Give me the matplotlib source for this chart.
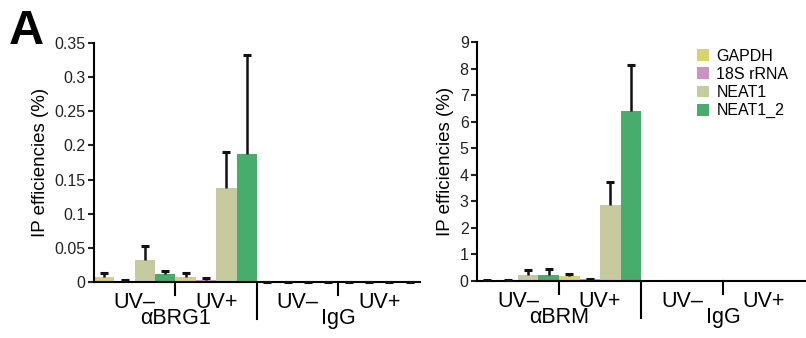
import matplotlib
matplotlib.use("Agg")
import matplotlib.pyplot as plt
from matplotlib.patches import Patch
import numpy as np

plt.rcParams['font.family'] = ['Liberation Sans', 'DejaVu Sans']

series = ["GAPDH", "18S rRNA", "NEAT1", "NEAT1_2"]
colors = ["#d8d36c", "#c992c2", "#c6cb9f", "#48ac6c"]
subgroups = ["UV\u2013", "UV+", "UV\u2013", "UV+"]

# order: aBRG1 UV-, aBRG1 UV+, IgG UV-, IgG UV+
brg1_vals = {
    "GAPDH":    [0.007, 0.007, 0.0, 0.0],
    "18S rRNA": [0.002, 0.003, 0.0, 0.0],
    "NEAT1":    [0.032, 0.137, 0.0, 0.0],
    "NEAT1_2":  [0.012, 0.187, 0.0, 0.0],
}
brg1_err = {
    "GAPDH":    [0.006, 0.006, 0.0, 0.0],
    "18S rRNA": [0.001, 0.003, 0.0, 0.0],
    "NEAT1":    [0.020, 0.053, 0.0, 0.0],
    "NEAT1_2":  [0.004, 0.146, 0.0, 0.0],
}
brm_vals = {
    "GAPDH":    [0.03, 0.18, 0.0, 0.0],
    "18S rRNA": [0.02, 0.06, 0.0, 0.0],
    "NEAT1":    [0.22, 2.87, 0.0, 0.0],
    "NEAT1_2":  [0.22, 6.40, 0.0, 0.0],
}
brm_err = {
    "GAPDH":    [0.0, 0.10, 0.0, 0.0],
    "18S rRNA": [0.0, 0.0, 0.0, 0.0],
    "NEAT1":    [0.20, 0.85, 0.0, 0.0],
    "NEAT1_2":  [0.23, 1.72, 0.0, 0.0],
}
brg1_ticks = [0, 0.05, 0.1, 0.15, 0.2, 0.25, 0.3, 0.35]
brg1_ticklabels = ["0", "0.05", "0.1", "0.15", "0.2", "0.25", "0.3", "0.35"]
brm_ticks = list(range(0, 10))
groups_left = ["\u03b1BRG1", "IgG"]
groups_right = ["\u03b1BRM", "IgG"]

fig = plt.figure(figsize=(8.06, 3.38), dpi=100)
ax1 = fig.add_axes([0.1166, 0.1657, 0.4044, 0.7071])
ax2 = fig.add_axes([0.5918, 0.1686, 0.4070, 0.7071])


def draw(ax, vals, errs, ymax, ticks, ticklabels, groups, small_marks):
    for si, s in enumerate(series):
        x = np.arange(4) * 4 + si + 0.5
        v = np.array(vals[s])
        e = np.array(errs[s])
        ax.bar(x, v, width=1.0, color=colors[si], edgecolor='none', zorder=2)
        m = e > 0
        ax.vlines(x[m], v[m], v[m] + e[m], color='#111111', lw=1.8, zorder=3)
        ax.plot(x[m], v[m] + e[m], linestyle='none', marker='_', markersize=6,
                markeredgewidth=2.2, color='#111111', zorder=3, clip_on=False)
        sm = np.array(small_marks[s]) > 0
        ax.plot(x[sm], v[sm], linestyle='none', marker='_', markersize=6,
                markeredgewidth=2.2, color='#111111', zorder=3, clip_on=False)
    ax.set_xlim(0, 16)
    ax.set_ylim(0, ymax)
    ax.set_yticks(ticks)
    ax.set_yticklabels(ticklabels, fontsize=11.5)
    ax.set_xticks([])
    for sp in ['top', 'right']:
        ax.spines[sp].set_visible(False)
    ax.spines['left'].set_linewidth(1.5)
    ax.spines['bottom'].set_linewidth(1.5)
    ax.tick_params(axis='y', length=4, width=1.5, pad=2, colors='#222222')
    ax.set_ylabel("IP efficiencies (%)", fontsize=13.5, labelpad=4)
    tr = ax.get_xaxis_transform()
    for xs in [4, 12]:
        ax.plot([xs, xs], [0, -0.055], transform=tr, color='black', lw=1.5, clip_on=False)
    ax.plot([8, 8], [0, -0.155], transform=tr, color='black', lw=1.5, clip_on=False)
    for i, lab in enumerate(subgroups):
        ax.text(i * 4 + 2, -0.04, lab, transform=tr, ha='center', va='top', fontsize=15.5)
    for i, lab in enumerate(groups):
        ax.text(i * 8 + 4, -0.11, lab, transform=tr, ha='center', va='top', fontsize=15.5)


brg1_marks = {s: [0, 0, 1, 1] for s in series}
brm_marks = {s: [0, 0, 0, 0] for s in series}
brm_marks["GAPDH"] = [1, 0, 0, 0]
brm_marks["18S rRNA"] = [1, 1, 0, 0]

draw(ax1, brg1_vals, brg1_err, 0.35, brg1_ticks, brg1_ticklabels, groups_left, brg1_marks)
draw(ax2, brm_vals, brm_err, 9, brm_ticks, [str(t) for t in brm_ticks], groups_right, brm_marks)

handles = [Patch(facecolor=c, edgecolor='none') for c in colors]
fig.legend(handles, series, loc='upper left', bbox_to_anchor=(0.857, 0.875), frameon=False,
           fontsize=11.5, handlelength=0.75, handleheight=0.75, handletextpad=0.45,
           labelspacing=0.2, borderaxespad=0.0)

fig.text(0.011, 0.972, "A", fontsize=35, fontweight='bold', ha='left', va='top')

fig.savefig("out.png", dpi=100)
